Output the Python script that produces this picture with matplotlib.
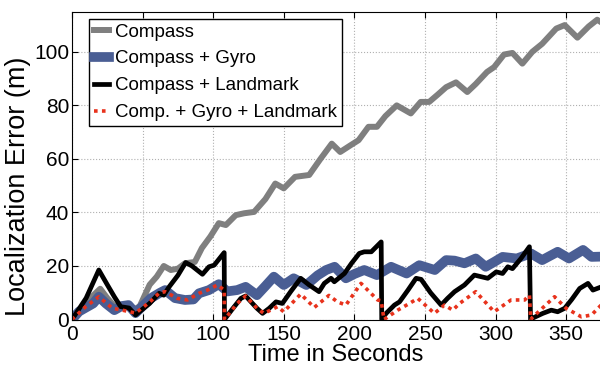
import matplotlib
matplotlib.use("Agg")
import matplotlib.pyplot as plt

plt.rcParams['font.family'] = ['Liberation Sans', 'DejaVu Sans']

# Compass only
t_compass = [0, 5, 10, 15, 20, 25, 30, 35, 40, 45, 48, 55, 60, 65, 70, 75, 80, 87, 92, 98,
             104, 109, 116, 122, 129, 137, 144, 150, 158, 168, 176, 184, 190, 197, 203, 210,
             216, 222, 230, 240, 247, 253, 259, 265, 272, 280, 286, 294, 299, 306, 312, 319,
             326, 333, 343, 349, 358, 366, 372, 375]
e_compass = [0, 3, 6, 9, 11.5, 8, 5, 5, 4.5, 4, 5, 13, 16, 20, 18.5, 19, 21, 21.5, 26.7, 31,
             36, 35.3, 39, 39.7, 40.2, 45, 50.8, 49, 53.3, 54, 60, 65.7, 62.6, 65, 67, 72,
             72, 76, 80, 77, 81.3, 81.3, 84, 86.8, 88.6, 85, 88, 92.5, 94.3, 99, 99.6, 95.6,
             100, 103, 108.7, 110, 105.3, 109.5, 112, 111]

# Compass + Gyro
t_gyro = [0, 5, 10, 15, 19, 24, 30, 35, 40, 45, 50, 56, 62, 66, 73, 80, 86, 90, 97, 104,
          110, 117, 123, 131, 137, 143, 150, 157, 166, 174, 180, 186, 194, 200, 207, 216,
          226, 237, 246, 257, 265, 271, 278, 286, 293, 299, 305, 315, 325, 333, 344, 352,
          362, 368, 375]
e_gyro = [0, 3, 4.5, 6, 8.5, 6, 3.5, 5, 5.4, 2.4, 5, 8, 9.9, 11, 8, 7.3, 7.5, 9.8, 11, 13.2,
          10.5, 11, 12.2, 9.1, 12.5, 16, 12.9, 15.4, 12.9, 16.5, 18.5, 19.7, 15.4, 17, 18.5, 16.6,
          19.7, 17.2, 20.3, 18.5, 22.2, 22, 21, 22.8, 19.7, 21.5, 23.4, 22.8, 24.7, 22.2, 25.3, 22.8,
          26, 23.4, 23.5]

# Compass + Landmark
t_land = [0, 10, 19, 25, 30, 34.5, 40.4, 45, 55, 61.7, 65, 68.8, 75, 80.5, 85, 92.4, 97, 100.7,
          107.8, 108, 113, 119.6, 123, 131, 135, 139.7, 144.5, 149, 155, 162, 168, 175, 178.7,
          183.5, 185.8, 193, 198, 203.5, 207, 212, 219, 219.4, 222.5, 228.4, 232, 238, 243.7,
          247.3, 254, 261.5, 266, 271, 278, 285, 294.5, 300.5, 305, 308.7, 312, 318, 324,
          324.8, 327, 333.5, 339.5, 344, 349, 354, 359.6, 365.5, 369, 375]
e_land = [0, 8, 18.5, 13, 8.5, 4.8, 4.3, 1.7, 6, 9.8, 9.1, 12.2, 16.5, 21.3, 20, 16.9, 19.7, 20.3,
          25, 0, 3.5, 7.9, 8.8, 4.2, 2.3, 4.2, 6.6, 6, 10.5, 15.4, 12.9, 10.4, 13.5,
          15.4, 14.1, 17.2, 21, 24.7, 25.3, 25.3, 29, 0, 2.3, 5.4, 6.6, 11, 15.4,
          15, 10, 5.4, 7.9, 10.4, 12.9, 16.6, 15.4, 17.8, 17.2, 19.7, 19, 22.8, 27.2,
          0, 0.7, 2.3, 3.5, 2.9, 4.2, 7.5, 11.6, 13.5, 11, 12.2]

# Comp. + Gyro + Landmark
t_all = [0, 9.7, 19, 28.6, 35.7, 45, 55, 62, 66, 74.7, 81.8, 90, 96, 103, 107.8, 108, 117, 123,
         131, 136, 145.6, 150, 162, 171.6, 182, 188, 194, 204.7, 216.5, 219, 221, 230.7, 239,
         244.9, 256.7, 263.8, 269.7, 274.5, 286, 299, 311, 320.6, 324, 325, 326, 341.8, 350,
         360.8, 368, 375]
e_all = [0, 4.8, 8.5, 4.2, 3.5, 2.4, 6.5, 10, 10.4, 7.9, 7.3, 9.8, 11, 12.9, 11, 0, 6, 8.8,
         4.2, 2.3, 4.8, 2.9, 9.5, 4.5, 9, 6.6, 5.4, 13.5, 7.3, 7, 0, 3.5, 6,
         7.9, 2.3, 5.4, 3.5, 6, 10.4, 2.9, 7.3, 7.3, 9.1, 0, 0.7, 8.5, 4.2,
         1, 1.7, 5.5]

fig = plt.figure(figsize=(6, 3.66), dpi=100)
ax = fig.add_axes([0.12, 0.127, 0.88, 0.841])

ax.plot(t_compass, e_compass, color='#7f7f7f', lw=4.3, label='Compass')
ax.plot(t_gyro, e_gyro, color='#4a5e94', lw=7, label='Compass + Gyro')
ax.plot(t_land, e_land, color='black', lw=3.4, label='Compass + Landmark')
ax.plot(t_all, e_all, color='#e8321c', lw=2.6, ls=(0, (1, 1.2)), label='Comp. + Gyro + Landmark')

ax.set_xlim(0, 374)
ax.set_ylim(0, 115)
ax.set_xticks(range(0, 351, 50))
ax.set_yticks(range(0, 101, 20))
ax.grid(True, ls=':', color='#b0b0b0', lw=0.8)
ax.tick_params(direction='in', top=True, right=False, labelsize=15, pad=2, length=4)
ax.tick_params(axis='x', pad=4)
ax.spines['right'].set_visible(False)
ax.set_xlabel('Time in Seconds', fontsize=17, labelpad=0)
ax.set_ylabel('Localization Error (m)', fontsize=19.5)
ax.yaxis.set_label_coords(-0.077, 0.434)

leg = ax.legend(loc='upper left', bbox_to_anchor=(0.032, 0.977), borderaxespad=0,
                fontsize=13.5, handlelength=0.8, handletextpad=0.35, borderpad=0.25,
                labelspacing=0.52, fancybox=False, framealpha=1, edgecolor='black')
leg.get_frame().set_linewidth(1.0)

fig.savefig('out.png', dpi=100)
